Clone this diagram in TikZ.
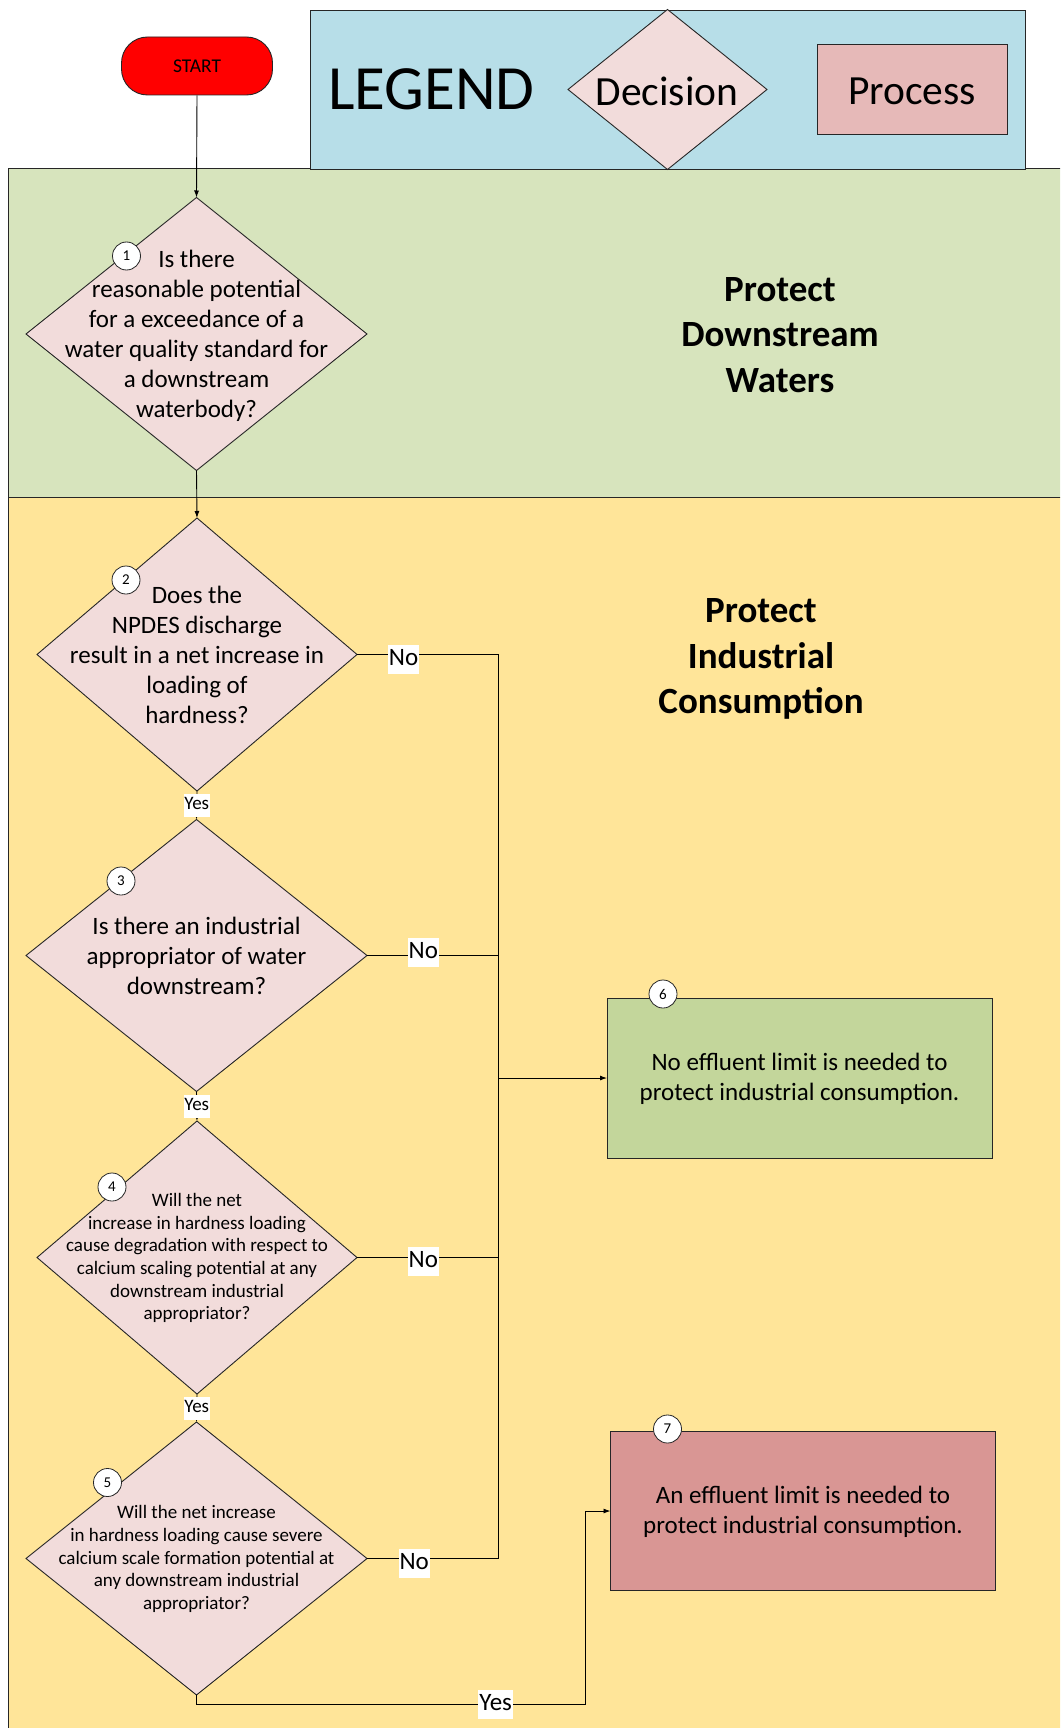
\documentclass[tikz,border=0pt]{standalone}
\usepackage{fontspec}
\setmainfont{Carlito}
\usetikzlibrary{shapes.geometric,arrows.meta}
\definecolor{legblue}{HTML}{B7DEE8}
\definecolor{bandgreen}{HTML}{D7E4BD}
\definecolor{bandyellow}{HTML}{FFE599}
\definecolor{decfill}{HTML}{F2DCDB}
\definecolor{procfill}{HTML}{E6B9B8}
\definecolor{okfill}{HTML}{C3D69B}
\definecolor{limfill}{HTML}{D99694}
\definecolor{edge}{HTML}{262626}
\begin{document}
\begin{tikzpicture}[x=1pt,y=-1pt,
  decision/.style={diamond,draw=edge,line width=0.9pt,fill=decfill,inner sep=0pt,outer sep=0pt},
  procbox/.style={rectangle,draw=edge,line width=0.9pt,inner sep=0pt,outer sep=0pt},
  bigtxt/.style={align=center,inner sep=0pt,font=\fontsize{25}{30}\selectfont},
  smalltxt/.style={align=center,inner sep=0pt,font=\fontsize{19}{22.7}\selectfont},
  secttxt/.style={align=center,inner sep=0pt,font=\bfseries\fontsize{37}{45.5}\selectfont},
  numcirc/.style={circle,draw=edge,line width=0.8pt,fill=white,minimum size=28pt,inner sep=0pt,font=\fontsize{15}{16}\selectfont},
  conn/.style={draw=black,line width=0.9pt},
  arr/.style={conn,-{Latex[length=7pt,width=5pt]}},
  nolab/.style={fill=white,inner xsep=1pt,inner ysep=2.5pt,text height=18pt,text depth=6pt,font=\fontsize{25}{30}\selectfont},
  yeslab/.style={fill=white,inner xsep=0.5pt,inner ysep=2pt,text height=14pt,text depth=5pt,font=\fontsize{19}{22}\selectfont},
  bandline/.style={draw=edge,line width=1pt}
]
\useasboundingbox (0,0) rectangle (1060,1728);
\clip (0,0) rectangle (1060,1728);
\fill[white] (0,0) rectangle (1060,1728);

% bands
\fill[bandgreen] (8,169) rectangle (1070,497);
\fill[bandyellow] (8,497) rectangle (1070,1740);
\draw[bandline] (1070,169) -- (8,169) -- (8,1740);
\draw[bandline] (8,497) -- (1070,497);

% legend
\node[procbox,fill=legblue,minimum width=715pt,minimum height=159pt] (legend) at (667.5,89.5) {};
\node[inner sep=0pt,font=\fontsize{63}{68}\selectfont] (legtitle) at (431.5,89) {LEGEND};
\node[decision,minimum width=199pt,minimum height=160pt] (legdec) at (667.5,89.5) {};
\node[inner sep=0pt,font=\fontsize{41.5}{45}\selectfont] (legdectxt) at (667,91) {Decision};
\node[procbox,fill=procfill,minimum width=190pt,minimum height=90pt] (legproc) at (912,89) {};
\node[inner sep=0pt,font=\fontsize{41.5}{45}\selectfont] (legproctxt) at (912,91) {Process};

% section titles
\node[secttxt] (pdw) at (780,335) {Protect\\Downstream\\Waters};
\node[secttxt] (pic) at (761,659) {Protect\\Industrial\\Consumption};

% start
\node[rectangle,rounded corners=26pt,draw=edge,line width=0.9pt,fill=red,minimum width=151pt,minimum height=58pt,inner sep=0pt,font=\fontsize{19.5}{21}\selectfont] (start) at (197,66) {START};

% decisions
\node[decision,minimum width=341pt,minimum height=273pt] (d1) at (196.5,334) {};
\node[bigtxt] (d1t) at (196.5,336) {Is there\\reasonable potential\\for a exceedance of a\\water quality standard for\\a downstream\\waterbody?};
\node[numcirc] (c1) at (126.5,256) {1};

\node[decision,minimum width=320pt,minimum height=273pt] (d2) at (197,654.5) {};
\node[bigtxt] (d2t) at (197,655) {Does the\\NPDES discharge\\result in a net increase in\\loading of\\hardness?};
\node[numcirc] (c2) at (126,580) {2};

\node[decision,minimum width=341pt,minimum height=272pt] (d3) at (196.5,955.5) {};
\node[bigtxt] (d3t) at (196.5,956) {Is there an industrial\\appropriator of water\\downstream?};
\node[numcirc] (c3) at (121,881) {3};

\node[decision,minimum width=320pt,minimum height=273pt] (d4) at (197,1257.5) {};
\node[smalltxt] (d4t) at (197,1258) {Will the net\\increase in hardness loading\\cause degradation with respect to\\calcium scaling potential at any\\downstream industrial\\appropriator?};
\node[numcirc] (c4) at (112,1187) {4};

\node[decision,minimum width=341pt,minimum height=273pt] (d5) at (196.5,1558.5) {};
\node[smalltxt] (d5t) at (196.5,1559) {Will the net increase\\in hardness loading cause severe\\calcium scale formation potential at\\any downstream industrial\\appropriator?};
\node[numcirc] (c5) at (107.5,1482.5) {5};

% outcome boxes
\node[procbox,fill=okfill,minimum width=385pt,minimum height=160pt] (b6) at (799.5,1078) {};
\node[bigtxt] (b6t) at (799.5,1079) {No effluent limit is needed to\\protect industrial consumption.};
\node[numcirc] (c6) at (663,994) {6};

\node[procbox,fill=limfill,minimum width=385pt,minimum height=159pt] (b7) at (803,1511) {};
\node[bigtxt] (b7t) at (803,1512) {An effluent limit is needed to\\protect industrial consumption.};
\node[numcirc] (c7) at (667.5,1429) {7};

% connectors
\coordinate (bus) at (498,1000);
\draw[arr] (start.south) -- (d1.north);
\draw[arr] (d1.south) -- (d2.north);
\draw[arr] (d2.south) -- node[yeslab]{Yes} (d3.north);
\draw[arr] (d3.south) -- node[yeslab]{Yes} (d4.north);
\draw[arr] (d4.south) -- node[yeslab]{Yes} (d5.north);

\draw[conn] (d2.east) -- node[nolab,pos=0.33,yshift=-5pt]{No} (d2.east -| bus) -- (d5.east -| bus) -- node[nolab,pos=0.64,yshift=-5pt]{No} (d5.east);
\draw[conn] (d3.east) -- node[nolab,pos=0.43,yshift=3pt]{No} (d3.east -| bus);
\draw[conn] (d4.east) -- node[nolab,pos=0.47,yshift=-4pt]{No} (d4.east -| bus);
\draw[arr] (b6.west -| bus) -- (b6.west);

\coordinate (y5a) at (196.5,1704);
\coordinate (y5b) at (585,1704);
\draw[arr] (d5.south) -- (y5a) -- node[nolab,pos=0.77]{Yes} (y5b) |- (b7.west);
\end{tikzpicture}
\end{document}
